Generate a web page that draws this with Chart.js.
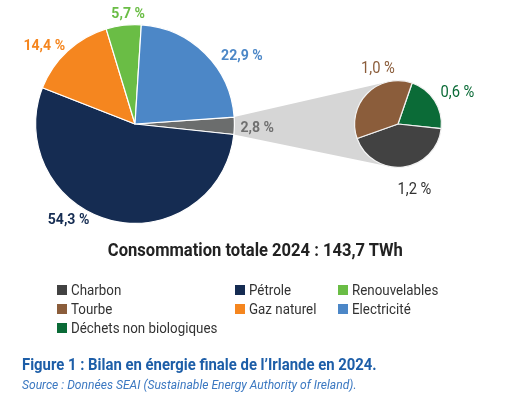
<!DOCTYPE html>
<html><head><meta charset="utf-8">
<script src="https://cdn.jsdelivr.net/npm/chart.js@4.4.1/dist/chart.umd.min.js"></script>
<style>
html,body{margin:0;padding:0;background:#fff;}
#wrap{position:relative;width:509px;height:400px;overflow:hidden;font-family:Roboto,sans-serif;}
canvas{position:absolute;left:0;top:0;}
#title{position:absolute;left:0;width:510px;top:240px;line-height:20px;text-align:center;font-weight:700;font-size:18px;color:#222;}
#title span{display:inline-block;transform:scaleX(0.92);transform-origin:center center;white-space:nowrap;}
#legend{position:absolute;left:57px;top:280px;display:grid;grid-template-columns:178px 103px auto;grid-auto-rows:19px;}
.item{display:flex;align-items:center;font-size:15px;color:#333;white-space:nowrap;}
.item .txt{display:inline-block;transform:scaleX(0.89);transform-origin:left center;}
.box{width:10px;height:10px;margin-right:4px;flex:none;}
#fig{position:absolute;left:22px;top:355px;line-height:20px;font-weight:700;font-size:16px;color:#1d5ea8;white-space:nowrap;transform:scaleX(0.93);transform-origin:left center;}
#src{position:absolute;left:22px;top:377px;line-height:16px;font-style:italic;font-size:13px;color:#3b78c1;white-space:nowrap;transform:scaleX(0.93);transform-origin:left center;}
</style></head>
<body><div id="wrap">
<canvas id="main" width="509" height="400"></canvas>
<canvas id="zoom" width="509" height="400"></canvas>
<div id="title"><span></span></div>
<div id="legend"></div>
<div id="fig"></div>
<div id="src"></div>
</div>
<script>
const titleText = 'Consommation totale 2024 : 143,7 TWh';
const figureText = 'Figure 1 : Bilan en énergie finale de l’Irlande en 2024.';
const sourceText = 'Source : Données SEAI (Sustainable Energy Authority of Ireland).';

const mainCategories = ['Charbon, tourbe et déchets', 'Pétrole', 'Gaz naturel', 'Renouvelables', 'Electricité'];
const mainValues = [2.8, 54.3, 14.4, 5.7, 22.9];
const mainColors = ['#6b6d6d', '#152c52', '#f5861f', '#6abd45', '#4c87c7'];
const mainLabelColors = ['#707070', '#152c52', '#f5861f', '#6abd45', '#4c87c7'];

const detailCategories = ['Déchets non biologiques', 'Charbon', 'Tourbe'];
const detailValues = [0.6, 1.2, 1.0];
const detailColors = ['#0b6b37', '#424242', '#8b5d3b'];
const detailLabelColors = ['#0b6b37', '#333333', '#8b5d3b'];

const legendLabels = ['Charbon', 'Pétrole', 'Renouvelables', 'Tourbe', 'Gaz naturel', 'Electricité', 'Déchets non biologiques'];
const legendColors = ['#424242', '#152c52', '#6abd45', '#8b5d3b', '#f5861f', '#4c87c7', '#0b6b37'];

// label placement: [fraction along slice angle, distance in radii]
const mainLabelPlace = [[0.5, 1.23], [0.61, 1.16], [0.38, 1.21], [0.65, 1.12], [0.65, 1.28]];
const detailLabelPlace = [[0.55, 1.56], [0.45, 1.52], [0.70, 1.38]];

document.querySelector('#title span').textContent = titleText;
document.getElementById('fig').textContent = figureText;
document.getElementById('src').textContent = sourceText;
const lg = document.getElementById('legend');
legendLabels.forEach((l, i) => {
  const it = document.createElement('div'); it.className = 'item';
  const b = document.createElement('span'); b.className = 'box'; b.style.background = legendColors[i];
  const t = document.createElement('span'); t.className = 'txt'; t.textContent = l;
  it.appendChild(b); it.appendChild(t); lg.appendChild(it);
});

function fmt(v) { return v.toFixed(1).replace('.', ',') + ' %'; }

function labelPlugin(id, place, colors, weight, size, sx) {
  return {
    id: id,
    afterDatasetsDraw(chart) {
      const ctx = chart.ctx;
      const arcs = chart.getDatasetMeta(0).data;
      const vals = chart.data.datasets[0].data;
      arcs.forEach((a, i) => {
        const p = a.getProps(['x', 'y', 'startAngle', 'endAngle', 'outerRadius'], true);
        const ang = p.startAngle + place[i][0] * (p.endAngle - p.startAngle);
        const d = place[i][1] * p.outerRadius;
        ctx.save();
        ctx.font = weight + ' ' + size + 'px Roboto';
        ctx.textAlign = 'center'; ctx.textBaseline = 'alphabetic';
        ctx.fillStyle = colors[i];
        ctx.translate(p.x + d * Math.cos(ang), p.y + d * Math.sin(ang) + 0.36 * size);
        ctx.scale(sx, 1);
        ctx.fillText(fmt(vals[i]), 0, 0);
        ctx.restore();
      });
    }
  };
}

const detailChart = new Chart(document.getElementById('zoom'), {
  type: 'pie',
  data: { labels: detailCategories, datasets: [{ data: detailValues, backgroundColor: detailColors, borderColor: '#f2f2f2', borderWidth: 1.2, hoverOffset: 0 }] },
  options: {
    responsive: false, animation: false, events: [], rotation: 19,
    layout: { padding: { left: 354, top: 80, right: 67, bottom: 232 } },
    plugins: { legend: { display: false }, tooltip: { enabled: false } }
  },
  plugins: [labelPlugin('detailLabels', detailLabelPlace, detailLabelColors, '400', 16, 0.92)]
});

const connector = {
  id: 'connector',
  beforeDatasetsDraw(chart) {
    const ctx = chart.ctx;
    const a = chart.getDatasetMeta(0).data[0].getProps(['x', 'y', 'startAngle', 'endAngle', 'outerRadius'], true);
    const b = detailChart.getDatasetMeta(0).data[0].getProps(['x', 'y', 'outerRadius'], true);
    const R = a.outerRadius, r = b.outerRadius;
    const P1 = { x: a.x + R * Math.cos(a.startAngle), y: a.y + R * Math.sin(a.startAngle) };
    const P2 = { x: a.x + R * Math.cos(a.endAngle), y: a.y + R * Math.sin(a.endAngle) };
    function tangent(P, sign) {
      const dx = b.x - P.x, dy = b.y - P.y, d = Math.hypot(dx, dy);
      const th = Math.atan2(dy, dx) + sign * Math.asin(r / d);
      const L = Math.sqrt(d * d - r * r);
      return { x: P.x + L * Math.cos(th), y: P.y + L * Math.sin(th) };
    }
    const T1 = tangent(P1, -1), T2 = tangent(P2, 1);
    const a1 = Math.atan2(T1.y - b.y, T1.x - b.x), a2 = Math.atan2(T2.y - b.y, T2.x - b.x);
    ctx.save();
    ctx.beginPath();
    ctx.moveTo(P1.x, P1.y);
    ctx.lineTo(T1.x, T1.y);
    ctx.arc(b.x, b.y, r, a1, a2, true);
    ctx.lineTo(P2.x, P2.y);
    ctx.closePath();
    ctx.fillStyle = '#d6d6d6';
    ctx.fill();
    ctx.restore();
  }
};

const mainChart = new Chart(document.getElementById('main'), {
  type: 'pie',
  data: { labels: mainCategories, datasets: [{ data: mainValues, backgroundColor: mainColors, borderColor: '#ffffff', borderWidth: 1.2, hoverOffset: 0 }] },
  options: {
    responsive: false, animation: false, events: [], rotation: 86,
    layout: { padding: { left: 35, top: 24, right: 274, bottom: 176 } },
    plugins: { legend: { display: false }, tooltip: { enabled: false } }
  },
  plugins: [connector, labelPlugin('mainLabels', mainLabelPlace, mainLabelColors, '700', 15, 0.94)]
});
</script>
</body></html>
